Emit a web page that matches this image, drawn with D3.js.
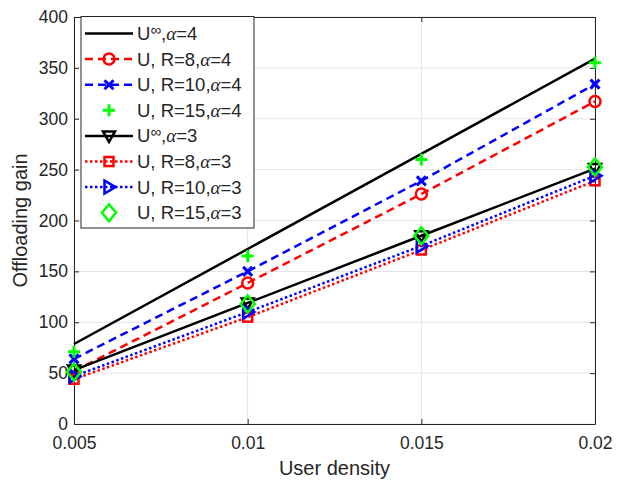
<!DOCTYPE html>
<html>
<head>
<meta charset="utf-8">
<script src="https://cdn.jsdelivr.net/npm/d3@7"></script>
<style>
  html, body { margin: 0; padding: 0; background: #fff; }
  svg { display: block; font-family: "Liberation Sans", Arial, sans-serif; }
</style>
</head>
<body>
<svg id="chart" width="618" height="482"></svg>
<script>
// User density (x) and offloading gain for each curve
const densities = [0.005, 0.01, 0.015, 0.02];
const xTicks = [0.005, 0.01, 0.015, 0.02];
const xTickLabels = ["0.005", "0.01", "0.015", "0.02"];
const yTicks = [0, 50, 100, 150, 200, 250, 300, 350, 400];

const uInfA4 = [78.6, 172, 265.5, 359];
const uR8A4  = [52, 138.6, 226, 317];
const uR10A4 = [64, 150, 239, 334];
const uR15A4 = [71, 165, 260, 355];
const uInfA3 = [53, 119, 185, 251];
const uR8A3  = [44, 105, 171, 239];
const uR10A3 = [47, 110, 175, 244];
const uR15A3 = [51, 118, 185, 252.6];

const seriesNames = [
  ["U", "∞", "4"], ["U, R=8,", null, "4"], ["U, R=10,", null, "4"], ["U, R=15,", null, "4"],
  ["U", "∞", "3"], ["U, R=8,", null, "3"], ["U, R=10,", null, "3"], ["U, R=15,", null, "3"]
];

const series = [
  { values: uInfA4, color: "#000000", dash: null, line: true, marker: null },
  { values: uR8A4,  color: "#ff0000", dash: "8,5", line: true, marker: "circle" },
  { values: uR10A4, color: "#0000ff", dash: "8,5", line: true, marker: "x" },
  { values: uR15A4, color: "#00ff00", dash: null, line: false, marker: "plus" },
  { values: uInfA3, color: "#000000", dash: null, line: true, marker: "tridown" },
  { values: uR8A3,  color: "#ff0000", dash: "2.5,2.5", line: true, marker: "square" },
  { values: uR10A3, color: "#0000ff", dash: "2.5,2.5", line: true, marker: "triright" },
  { values: uR15A3, color: "#00ff00", dash: null, line: false, marker: "diamond" }
];

const svg = d3.select("#chart");
const plot = { left: 74, right: 595, top: 17, bottom: 424 };

const x = d3.scaleLinear().domain([0.005, 0.02]).range([plot.left, plot.right]);
const y = d3.scaleLinear().domain([0, 400]).range([plot.bottom, plot.top]);

const axisColor = "#262626";

// Grid
const grid = svg.append("g").attr("stroke", "#e3e3e3").attr("stroke-width", 1);
xTicks.forEach(t => grid.append("line")
  .attr("x1", x(t)).attr("x2", x(t)).attr("y1", plot.top).attr("y2", plot.bottom));
yTicks.forEach(t => grid.append("line")
  .attr("x1", plot.left).attr("x2", plot.right).attr("y1", y(t)).attr("y2", y(t)));

// Axes with inward ticks
const xAxis = d3.axisBottom(x).tickValues(xTicks).tickFormat((d, i) => xTickLabels[i])
  .tickSizeInner(-5).tickSizeOuter(0).tickPadding(13);
const yAxis = d3.axisLeft(y).tickValues(yTicks).tickSizeInner(-5).tickSizeOuter(0).tickPadding(6);

const gx = svg.append("g").attr("transform", `translate(0,${plot.bottom})`).call(xAxis);
const gy = svg.append("g").attr("transform", `translate(${plot.left},0)`).call(yAxis);
const gx2 = svg.append("g").attr("transform", `translate(0,${plot.top})`)
  .call(d3.axisTop(x).tickValues(xTicks).tickFormat("").tickSizeInner(-5).tickSizeOuter(0));
const gy2 = svg.append("g").attr("transform", `translate(${plot.right},0)`)
  .call(d3.axisRight(y).tickValues(yTicks).tickFormat("").tickSizeInner(-5).tickSizeOuter(0));

[gx, gy, gx2, gy2].forEach(g => {
  g.select(".domain").attr("stroke", axisColor).attr("stroke-width", 1);
  g.selectAll(".tick line").attr("stroke", axisColor);
  g.selectAll(".tick text").attr("fill", axisColor)
    .style("font-size", "17.5px").style("font-family", "'Liberation Sans', Arial, sans-serif");
});

// Axis titles
svg.append("text").attr("x", (plot.left + plot.right) / 2).attr("y", 475)
  .attr("text-anchor", "middle").attr("fill", axisColor)
  .style("font-size", "20px").text("User density");
svg.append("text").attr("transform", `translate(27,${(plot.top + plot.bottom) / 2}) rotate(-90)`)
  .attr("text-anchor", "middle").attr("fill", axisColor)
  .style("font-size", "20px").text("Offloading gain");

// Marker shapes
function drawMarker(g, type, cx, cy, color) {
  const s = g.append("g").attr("transform", `translate(${cx},${cy})`)
    .attr("fill", "none").attr("stroke", color).attr("stroke-width", 2.5);
  if (type === "circle") {
    s.append("circle").attr("r", 5.5);
  } else if (type === "x") {
    s.append("path").attr("d", "M-4.5,-4.5L4.5,4.5M-4.5,4.5L4.5,-4.5").attr("stroke-width", 3);
  } else if (type === "plus") {
    s.append("path").attr("d", "M-6,0L6,0M0,-6L0,6").attr("stroke-width", 3);
  } else if (type === "tridown") {
    s.append("path").attr("d", "M-6,-4.5L6,-4.5L0,6Z");
  } else if (type === "square") {
    s.append("rect").attr("x", -4.5).attr("y", -4.5).attr("width", 9).attr("height", 9);
  } else if (type === "triright") {
    s.append("path").attr("d", "M-4.5,-6.5L6.5,0L-4.5,6.5Z");
  } else if (type === "diamond") {
    s.append("path").attr("d", "M0,-8.5L7,0L0,8.5L-7,0Z");
  }
}

const lineGen = d3.line().x((d, i) => x(densities[i])).y(d => y(d));

const plotArea = svg.append("g");
series.forEach(s => {
  if (s.line) {
    plotArea.append("path").datum(s.values)
      .attr("d", lineGen).attr("fill", "none")
      .attr("stroke", s.color).attr("stroke-width", 2.5)
      .attr("stroke-dasharray", s.dash);
  }
  if (s.marker) {
    s.values.forEach((v, i) => drawMarker(plotArea, s.marker, x(densities[i]), y(v), s.color));
  }
});

// Legend
const legend = svg.append("g");
legend.append("rect").attr("x", 81).attr("y", 16.5).attr("width", 173).attr("height", 211.5)
  .attr("fill", "#fff").attr("stroke", axisColor).attr("stroke-width", 1);

series.forEach((s, i) => {
  const cy = 33.5 + i * 25.6;
  if (s.line) {
    legend.append("line").attr("x1", 85).attr("x2", 133).attr("y1", cy).attr("y2", cy)
      .attr("stroke", s.color).attr("stroke-width", 2.5).attr("stroke-dasharray", s.dash);
  }
  if (s.marker) drawMarker(legend, s.marker, 109, cy, s.color);

  const [base, sup, alpha] = seriesNames[i];
  const t = legend.append("text").attr("x", 137).attr("y", cy + 6.5)
    .attr("fill", axisColor).style("font-size", "18.5px");
  t.append("tspan").text(base);
  if (sup) {
    t.append("tspan").attr("dy", -5).style("font-size", "15px").text(sup);
    t.append("tspan").attr("dy", 5).text(",");
  }
  t.append("tspan").style("font-family", "'Liberation Serif', 'Times New Roman', serif")
    .style("font-style", "italic").style("font-size", "19px").text("α");
  t.append("tspan").text("=" + alpha);
});
</script>
</body>
</html>
